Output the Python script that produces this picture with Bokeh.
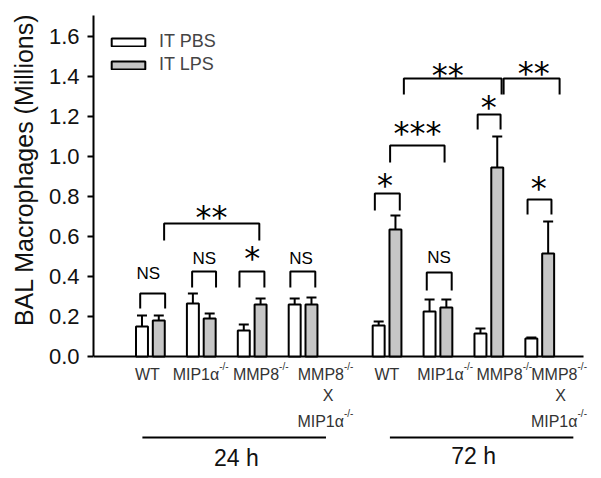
import math
from bokeh.plotting import figure
from bokeh.models import (Range1d, ColumnDataSource, Whisker, TeeHead, FixedTicker,
                          PrintfTickFormatter, Legend, LegendItem, Title)
from bokeh.core.properties import value
from bokeh.embed import file_html
from bokeh.resources import INLINE

# ---------------- data ----------------
genotypes = ["WT", "MIP1α", "MMP8", "MMP8 X MIP1α"]
timepoints = ["24 h", "72 h"]
pbs_mean = [0.15, 0.265, 0.13, 0.26, 0.155, 0.225, 0.115, 0.09]
pbs_err = [0.055, 0.05, 0.03, 0.03, 0.02, 0.06, 0.025, 0.005]
lps_mean = [0.18, 0.19, 0.26, 0.26, 0.635, 0.245, 0.945, 0.515]
lps_err = [0.025, 0.025, 0.03, 0.035, 0.07, 0.04, 0.155, 0.16]
y_ticks = [0.0, 0.2, 0.4, 0.6, 0.8, 1.0, 1.2, 1.4, 1.6]

# significance brackets: (x left, x right, top, leg bottom, text)
sig_x0 = [0.80, 1.82, 2.75, 3.75, 1.27, 5.41, 5.71, 6.43, 7.43, 5.98, 7.94, 8.41]
sig_x1 = [1.29, 2.29, 3.24, 4.24, 3.14, 5.90, 6.78, 6.92, 7.88, 7.90, 9.04, 8.88]
sig_top = [0.315, 0.425, 0.425, 0.425, 0.665, 0.815, 1.055, 0.42, 1.21, 1.39, 1.39, 0.785]
sig_bot = [0.24, 0.345, 0.345, 0.345, 0.58, 0.73, 0.97, 0.33, 1.135, 1.31, 1.31, 0.71]
sig_text = ["NS", "NS", "*", "NS", "**", "*", "***", "NS", "*", "**", "**", "*"]
sig_tx = [0.96, 2.06, 3.0, 3.96, 2.2, 5.61, 6.25, 6.67, 7.65, 6.84, 8.53, 8.63]
sig_ty = [0.415, 0.49, 0.515, 0.49, 0.72, 0.88, 1.14, 0.495, 1.27, 1.43, 1.44, 0.865]

# ---------------- layout helpers ----------------
n = len(pbs_mean)
gx = [i + 1 + (0.65 if i >= 4 else 0) for i in range(n)]
off = 0.165
bw = 0.235

p = figure(width=593, height=470, output_backend="svg", toolbar_location=None,
           x_range=Range1d(-0.1176, 9.706), y_range=Range1d(-0.57, 1.73),
           x_axis_type=None, min_border_left=92, min_border_right=0,
           min_border_top=10, min_border_bottom=0)
p.outline_line_color = None
p.ygrid.grid_line_color = None
p.xgrid.grid_line_color = None
p.background_fill_color = "white"

yax = p.yaxis[0]
yax.bounds = (0, 1.705)
yax.ticker = FixedTicker(ticks=y_ticks)
yax.formatter = PrintfTickFormatter(format="%.1f")
yax.axis_line_width = 2
yax.major_tick_line_width = 2
yax.major_tick_out = 6
yax.major_tick_in = 0
yax.minor_tick_line_color = None
yax.major_label_text_font = "Liberation Sans"
yax.major_label_text_font_size = "22px"
yax.major_label_text_color = "#111111"
yax.major_label_standoff = 8

# x baseline
p.segment(x0=[-0.1176], y0=[0], x1=[9.51], y1=[0], line_width=2, line_color="black")

pbs_src = ColumnDataSource(dict(x=[g - off for g in gx], top=pbs_mean,
                                up=[m + e for m, e in zip(pbs_mean, pbs_err)]))
lps_src = ColumnDataSource(dict(x=[g + off for g in gx], top=lps_mean,
                                up=[m + e for m, e in zip(lps_mean, lps_err)]))

for src in (pbs_src, lps_src):
    p.add_layout(Whisker(source=src, base="x", lower="top", upper="up", dimension="height",
                         line_width=2, line_color="black",
                         upper_head=TeeHead(size=10, line_width=2, line_color="black"),
                         lower_head=None))

r_pbs = p.vbar(x="x", top="top", bottom=0, width=bw, source=pbs_src,
               fill_color="white", line_color="black", line_width=2)
r_lps = p.vbar(x="x", top="top", bottom=0, width=bw, source=lps_src,
               fill_color="#c6c6c6", line_color="black", line_width=2)

# brackets
p.multi_line(xs=[[a, a, b, b] for a, b in zip(sig_x0, sig_x1)],
             ys=[[lo, t, t, lo] for t, lo in zip(sig_top, sig_bot)],
             line_width=2, line_color="black")
ns_idx = [i for i, t in enumerate(sig_text) if t == "NS"]
st_idx = [i for i, t in enumerate(sig_text) if t != "NS"]
p.text(x=[sig_tx[i] for i in ns_idx], y=[sig_ty[i] for i in ns_idx],
       text=[sig_text[i] for i in ns_idx], text_font=value("Liberation Sans"),
       text_font_size="17px", text_align="center", text_baseline="middle", text_color="black")
p.text(x=[sig_tx[i] for i in st_idx], y=[sig_ty[i] - 0.02 for i in st_idx],
       text=[sig_text[i] for i in st_idx], text_font=value("DejaVu Sans"),
       text_font_size="32px", text_align="center", text_baseline="middle", text_color="black")

# category labels (main part + superscript)
lab_col = "#333333"
main_x = [0.94, 2.353, 3.529, 4.804, 5.647, 7.157, 8.314, 9.392]
main_t = ["WT", "MIP1α", "MMP8", "MMP8", "WT", "MIP1α", "MMP8", "MMP8"]
main_align = ["center", "right", "right", "right", "center", "right", "right", "right"]
p.text(x=main_x, y=[-0.09] * n, text=main_t, text_align=main_align,
       text_font=value("Liberation Sans"), text_font_size="16px",
       text_baseline="middle", text_color=lab_col)
sup_i = [i for i in range(n) if main_align[i] == "right"]
p.text(x=[main_x[i] for i in sup_i], y=[-0.05] * len(sup_i), text=["-/-"] * len(sup_i),
       text_align="left", text_font=value("Liberation Sans"), text_font_size="10px",
       text_baseline="middle", text_color=lab_col)
dko = [3, 7]
x_mid = [4.49, 9.06]
p.text(x=x_mid, y=[-0.195] * 2, text=["X"] * 2, text_align="center",
       text_font=value("Liberation Sans"), text_font_size="16px",
       text_baseline="middle", text_color=lab_col)
p.text(x=[main_x[i] for i in dko], y=[-0.325] * 2, text=["MIP1α"] * 2, text_align="right",
       text_font=value("Liberation Sans"), text_font_size="16px",
       text_baseline="middle", text_color=lab_col)
p.text(x=[main_x[i] for i in dko], y=[-0.285] * 2, text=["-/-"] * 2, text_align="left",
       text_font=value("Liberation Sans"), text_font_size="10px",
       text_baseline="middle", text_color=lab_col)

# time point lines and labels
p.segment(x0=[0.843, 5.706], y0=[-0.405] * 2, x1=[4.45, 9.31], y1=[-0.405] * 2,
          line_width=2, line_color="black")
p.text(x=[2.69, 7.35], y=[-0.505, -0.495], text=timepoints, text_align="center",
       text_font=value("Liberation Sans"), text_font_size="23px",
       text_baseline="middle", text_color="#111111")

# y axis title
p.add_layout(Title(text="BAL Macrophages (Millions)", align="right", offset=3,
                   text_font="Liberation Sans", text_font_size="25px",
                   text_font_style="normal", text_color="#111111", standoff=15), "left")

legend = Legend(items=[LegendItem(label="IT PBS", renderers=[r_pbs]),
                       LegendItem(label="IT LPS", renderers=[r_lps])],
                location=(14, 395), padding=0, margin=0, border_line_alpha=0,
                background_fill_alpha=0, glyph_width=42, glyph_height=10,
                label_height=20, spacing=2, label_standoff=10,
                label_text_font="Liberation Sans", label_text_font_size="18px")
p.add_layout(legend)

open("out.html", "w").write(file_html(p, INLINE))
